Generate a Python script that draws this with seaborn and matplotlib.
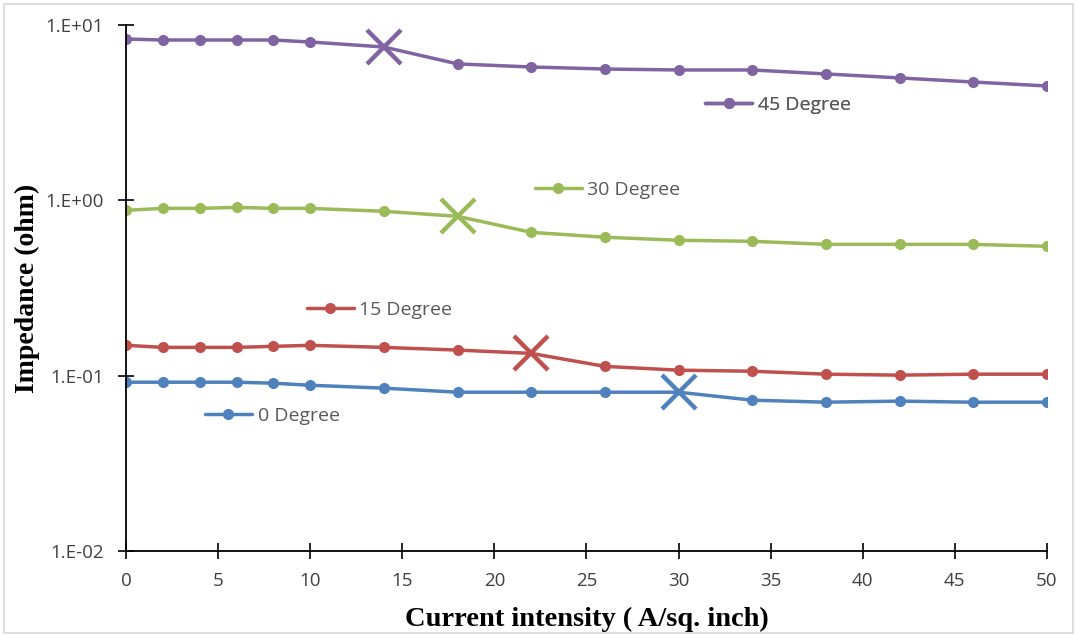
import matplotlib
matplotlib.use("Agg")
import matplotlib.pyplot as plt
from matplotlib.lines import Line2D
from matplotlib.patches import Rectangle
import seaborn as sns
import pandas as pd

current = [0, 2, 4, 6, 8, 10, 14, 18, 22, 26, 30, 34, 38, 42, 46, 50]
deg0 = [0.0918, 0.0918, 0.0918, 0.0918, 0.0906, 0.0882, 0.0849, 0.0805, 0.0805, 0.0805, 0.0805,
        0.0725, 0.0706, 0.0716, 0.0706, 0.0706]
deg15 = [0.149, 0.145, 0.145, 0.145, 0.147, 0.149, 0.145, 0.140, 0.134, 0.113, 0.1075,
         0.106, 0.102, 0.1007, 0.102, 0.102]
deg30 = [0.877, 0.900, 0.900, 0.912, 0.900, 0.900, 0.866, 0.811, 0.657, 0.616, 0.592,
         0.584, 0.561, 0.561, 0.561, 0.547]
deg45 = [8.32, 8.21, 8.21, 8.21, 8.21, 8.0, 7.49, 6.0, 5.76, 5.61, 5.54,
         5.54, 5.26, 4.99, 4.73, 4.49]
series_names = ["0 Degree", "15 Degree", "30 Degree", "45 Degree"]
transition_x = [30, 22, 18, 14]
colors = ["#4F81BD", "#C0504D", "#9BBB59", "#8064A2"]
legend_pos = [(0.0858, 0.2567), (0.1965, 0.458), (0.444, 0.686), (0.629, 0.848)]
x_ticks = [0, 5, 10, 15, 20, 25, 30, 35, 40, 45, 50]
y_ticks = [0.01, 0.1, 1, 10]
y_ticklabels = ["1.E-02", "1.E-01", "1.E+00", "1.E+01"]

sns.set_theme(style="white")
plt.rcParams["font.family"] = ["Open Sans", "DejaVu Sans"]

fig = plt.figure(figsize=(10.77, 6.36), dpi=100)
ax = fig.add_axes([0.117, 0.1336, 0.855, 0.8271])
fig.patches.append(Rectangle((0.004, 0.004), 0.992, 0.99, transform=fig.transFigure,
                             fill=False, edgecolor="#d9d9d9", lw=1.2))

all_series = [deg0, deg15, deg30, deg45]
for name, vals, tx, col, pos in zip(series_names, all_series, transition_x, colors, legend_pos):
    df = pd.DataFrame({"x": current, "y": vals})
    idx = current.index(tx)
    keep = [i for i in range(len(current)) if i != idx]
    sns.lineplot(data=df, x="x", y="y", ax=ax, color=col, lw=2.5, marker="o",
                 markersize=8, markeredgewidth=0, markevery=keep, legend=False)
    ax.plot([current[idx]], [vals[idx]], marker="x", markersize=25, mew=3.2,
            color=col, linestyle="none", zorder=5)
    h = Line2D([], [], color=col, lw=2.5, marker="o", markersize=8, markeredgewidth=0)
    leg = ax.legend(handles=[h], labels=[name], loc="center left", bbox_to_anchor=pos,
                    frameon=False, borderpad=0, borderaxespad=0, handlelength=2.4,
                    handletextpad=0.3, fontsize=14, labelcolor="#595959")
    ax.add_artist(leg)

ax.set_yscale("log")
ax.set_ylim(0.01, 10)
ax.set_xlim(0, 50)
ax.set_xticks(x_ticks)
ax.set_xticklabels([str(t) for t in x_ticks])
ax.set_yticks(y_ticks)
ax.set_yticklabels(y_ticklabels)
ax.minorticks_off()
ax.tick_params(axis="x", which="major", pad=9)
ax.tick_params(axis="y", which="major", pad=10)
ax.tick_params(axis="both", which="major", direction="inout", length=12, width=1.2,
               color="black", labelsize=13.5, labelcolor="#404040",
               left=True, bottom=True)
for s in ["top", "right"]:
    ax.spines[s].set_visible(False)
for s in ["left", "bottom"]:
    ax.spines[s].set_color("black")
    ax.spines[s].set_linewidth(1.3)

ax.set_xlabel("Current intensity ( A/sq. inch)", fontsize=20.5, fontweight="bold",
              family="Liberation Serif", color="black", labelpad=12)
ax.set_ylabel("Impedance (ohm)", fontsize=20, fontweight="bold",
              family="Liberation Serif", color="black", labelpad=4)

fig.savefig("out.png", dpi=100)
